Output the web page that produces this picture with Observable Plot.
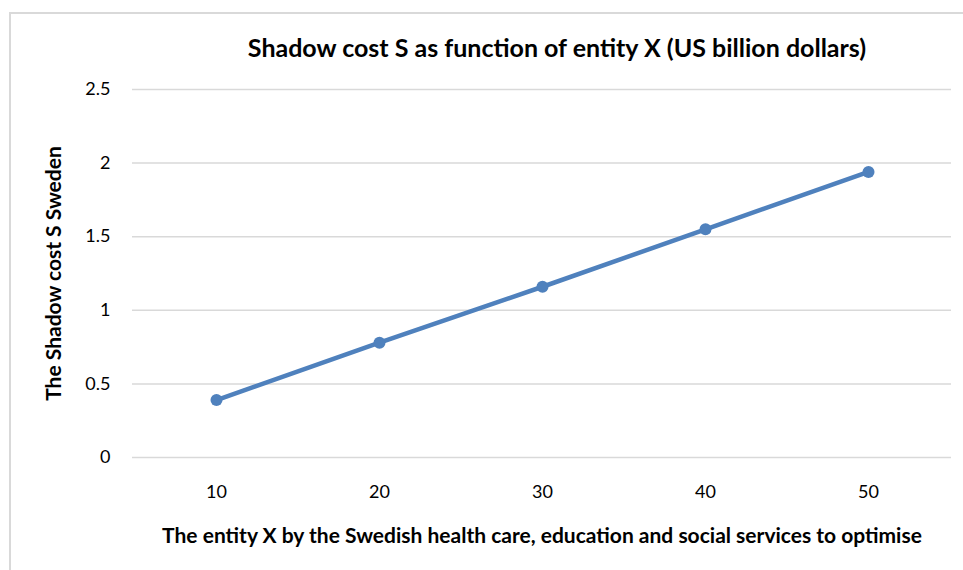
<!DOCTYPE html>
<html>
<head>
<meta charset="utf-8">
<script src="https://cdn.jsdelivr.net/npm/d3@7"></script>
<script src="https://cdn.jsdelivr.net/npm/@observablehq/plot@0.6"></script>
<style>
  html, body { margin: 0; padding: 0; background: #fff; }
  #wrap { position: relative; width: 963px; height: 570px; overflow: hidden; background: #fff; }
  #frame { position: absolute; left: 9px; top: 12px; right: -10px; bottom: -10px;
           border: 2px solid #d9d9d9; pointer-events: none; z-index: 2; }
  #title { height: 70px; box-sizing: border-box; padding-top: 35px; padding-left: 151px;
           text-align: center; font-family: "Lato", sans-serif;
           font-weight: bold; font-size: 25px; line-height: 24px; color: #000; white-space: nowrap; }
</style>
</head>
<body>
<div id="wrap">
  <div id="frame"></div>
  <div id="title"></div>
  <div id="chart"></div>
</div>
<script>
const titleText = "Shadow cost S as function of entity X (US billion dollars)";
const xAxisLabel = "The entity X by the Swedish health care, education and social services to optimise";
const yAxisLabel = "The Shadow cost S Sweden";
const entityX = [10, 20, 30, 40, 50];
const shadowCost = [0.39, 0.78, 1.16, 1.55, 1.94];
const yTicks = [0, 0.5, 1, 1.5, 2, 2.5];

const data = entityX.map((x, i) => ({x, y: shadowCost[i]}));
document.getElementById("title").textContent = titleText;

const chart = Plot.plot({
  width: 963,
  height: 500,
  marginLeft: 132,
  marginRight: 12,
  marginTop: 19,
  marginBottom: 113,
  style: {fontFamily: "Lato, sans-serif", fontSize: "18px", color: "#000", background: "none", overflow: "visible"},
  x: {type: "point", domain: entityX, padding: 0.5, label: null, tickSize: 0, tickPadding: 28},
  y: {domain: [0, 2.5], ticks: yTicks, tickFormat: d => String(d), label: null, tickSize: 0, tickPadding: 22},
  marks: [
    Plot.ruleY(yTicks, {stroke: "#d9d9d9", strokeWidth: 1.5}),
    Plot.line(data, {x: "x", y: "y", stroke: "#4f81bd", strokeWidth: 4.5}),
    Plot.dot(data, {x: "x", y: "y", r: 6, fill: "#4f81bd"}),
    Plot.text([yAxisLabel], {frameAnchor: "left", dx: -78, rotate: -90, textAnchor: "middle", lineAnchor: "middle", fontWeight: "bold", fontSize: 21, fill: "#000"}),
    Plot.text([xAxisLabel], {frameAnchor: "bottom", dy: 79, textAnchor: "middle", lineAnchor: "middle", fontWeight: "bold", fontSize: 21, fill: "#000"})
  ]
});
document.getElementById("chart").appendChild(chart);
</script>
</body>
</html>
